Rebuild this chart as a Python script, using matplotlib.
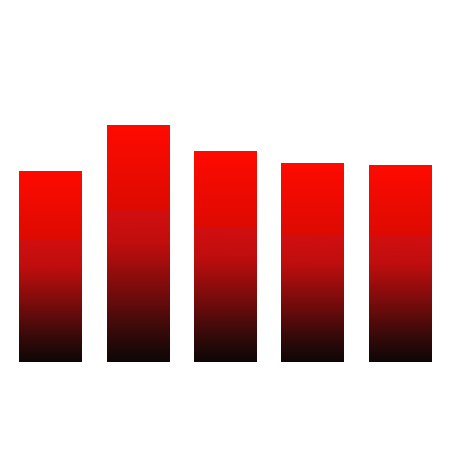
import numpy as np
import matplotlib
matplotlib.use("Agg")
import matplotlib.pyplot as plt
from matplotlib.colors import LinearSegmentedColormap

categories = ["A", "B", "C", "D", "E"]
values = [47.75, 59.25, 52.65, 49.65, 49.3]

W, H = 451, 450
fig = plt.figure(figsize=(W / 100, H / 100), dpi=100)
ax = fig.add_axes([7 / W, (H - 362) / H, (444 - 7) / W, 362 / H])
ax.axis("off")

# gradient from top (0) to bottom (1)
cmap = LinearSegmentedColormap.from_list(
    "g",
    [(0.0, "#ff0a00"), (0.36, "#dd0b02"), (0.361, "#d20e10"),
     (0.5, "#c00e0e"), (0.7, "#780c0c"), (0.86, "#3a0a0a"), (1.0, "#0e0707")],
)
grad = np.linspace(0, 1, 256).reshape(-1, 1)

x = np.arange(len(categories))
bars = ax.bar(x, values, width=0.72, color="none", edgecolor=(1, 1, 1, 0.35), linewidth=0.6)
for b, v in zip(bars, values):
    x0 = b.get_x()
    w = b.get_width()
    im = ax.imshow(grad, cmap=cmap, aspect="auto", extent=[x0, x0 + w, 0, v],
                   origin="upper", zorder=1, interpolation="bilinear")
    im.set_clip_path(b)
ax.set_xlim(-0.5, len(categories) - 0.5)
ax.set_ylim(0, 90.5)

fig.savefig("out.png", dpi=100, facecolor="white")
